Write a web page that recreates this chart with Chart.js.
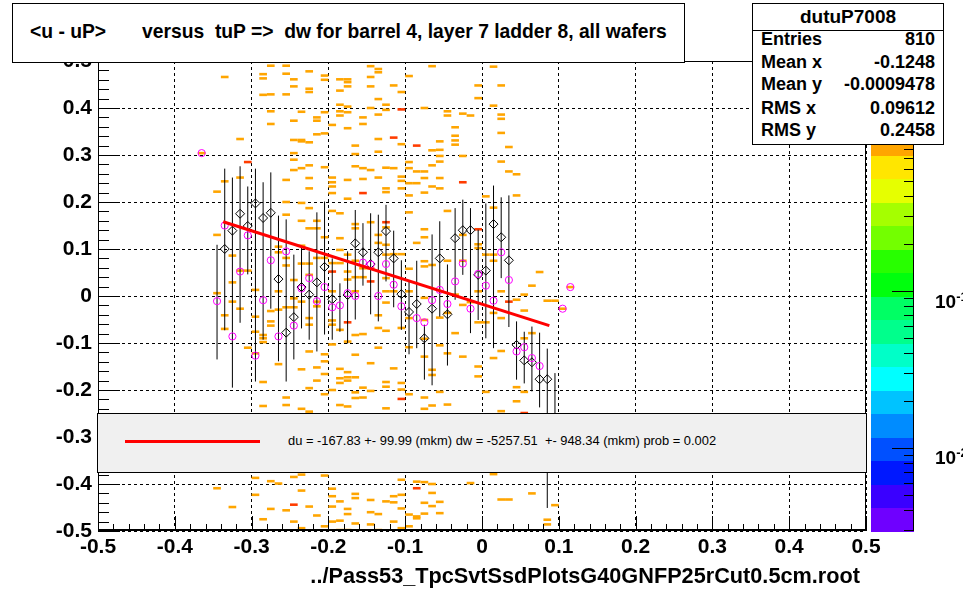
<!DOCTYPE html>
<html>
<head>
<meta charset="utf-8">
<script src="https://cdn.jsdelivr.net/npm/chart.js@4.4.1/dist/chart.umd.min.js"></script>
<style>
  html, body { margin: 0; padding: 0; background: #fff; }
  #page { position: relative; width: 963px; height: 590px; overflow: hidden; font-family: 'Liberation Sans', Arial, sans-serif; color: #000; }
  #plotBox { position: absolute; left: 0; top: 0; width: 963px; height: 590px; }
  .panel { position: absolute; box-sizing: border-box; border: 1px solid #000; background: #fff; }
  #titleBox { left: 12px; top: 3px; width: 673px; height: 60px; font-weight: bold; font-size: 19.3px; }
  #titleBox span { position: absolute; top: 18px; line-height: 20px; white-space: pre; }
  #statsBox { left: 752px; top: 3px; width: 192px; height: 142px; font-weight: bold; font-size: 18px; z-index: 3; }
  #statsHead { position: absolute; left: 0; right: 0; top: 0; height: 26px; line-height: 26px; text-align: center; font-size: 19px; border-bottom: 1px solid #000; }
  .srow { position: absolute; left: 8px; right: 8px; height: 22px; line-height: 22px; }
  .srow .v { position: absolute; right: 0; top: 0; }
  #legendBox { left: 97px; top: 413px; width: 770px; height: 60px; background: #f0f0f0; z-index: 2; }
  #legendLine { position: absolute; left: 27px; top: 26px; width: 135px; height: 3px; background: #ff0000; }
  #legendText { position: absolute; left: 190px; top: 20px; line-height: 14px; font-size: 12.9px; white-space: pre; }
  #palette { position: absolute; left: 871px; top: 61px; width: 43px; height: 470px; z-index: 1; }
  .band { position: absolute; left: 0; width: 43px; }
  .ptick { position: absolute; height: 1px; background: #000; }
  .plab { position: absolute; left: 935px; font-weight: bold; font-size: 19px; line-height: 20px; white-space: nowrap; }
  .plab sup { font-size: 13px; }
</style>
</head>
<body>
<div id="page">
  <div id="plotBox"><canvas id="plot"></canvas></div>
  <div id="palette"></div>
  <div class="plab" style="top:287px">10<sup>-1</sup></div>
  <div class="plab" style="top:443px">10<sup>-2</sup></div>
  <div class="panel" id="titleBox">
    <span style="left:17px">&lt;u - uP&gt;</span>
    <span style="left:129px">versus  tuP =&gt;  dw for barrel 4, layer 7 ladder 8, all wafers</span>
  </div>
  <div class="panel" id="statsBox">
    <div id="statsHead">dutuP7008</div>
    <div class="srow" style="top:24px">Entries<span class="v">810</span></div>
    <div class="srow" style="top:47px">Mean x<span class="v">-0.1248</span></div>
    <div class="srow" style="top:69px">Mean y<span class="v">-0.0009478</span></div>
    <div class="srow" style="top:93px">RMS x<span class="v">0.09612</span></div>
    <div class="srow" style="top:115px">RMS y<span class="v">0.2458</span></div>
  </div>
  <div class="panel" id="legendBox">
    <div id="legendLine"></div>
    <div id="legendText">du = -167.83 +- 99.99 (mkm) dw = -5257.51  +- 948.34 (mkm) prob = 0.002</div>
  </div>
</div>
<script>
// axis ticks
const xTickValues = [-0.5, -0.4, -0.3, -0.2, -0.1, 0, 0.1, 0.2, 0.3, 0.4, 0.5];
const xTickLabels = ['-0.5', '-0.4', '-0.3', '-0.2', '-0.1', '0', '0.1', '0.2', '0.3', '0.4', '0.5'];
const yTickValues = [-0.5, -0.4, -0.3, -0.2, -0.1, 0, 0.1, 0.2, 0.3, 0.4, 0.5];
const yTickLabels = ['-0.5', '-0.4', '-0.3', '-0.2', '-0.1', '0', '0.1', '0.2', '0.3', '0.4', '0.5'];
const xTitle = '../Pass53_TpcSvtSsdPlotsG40GNFP25rCut0.5cm.root ';

// profiles: bin centres, black diamonds, magenta circles, error bar ends
const profileX = [-0.365, -0.345, -0.335, -0.325, -0.315, -0.305, -0.295, -0.285, -0.275, -0.265,
  -0.255, -0.245, -0.235, -0.225, -0.215, -0.205, -0.195, -0.185, -0.175, -0.165,
  -0.155, -0.145, -0.135, -0.125, -0.115, -0.105, -0.095, -0.085, -0.075, -0.065,
  -0.055, -0.045, -0.035, -0.025, -0.015, -0.005, 0.005, 0.015, 0.025, 0.035,
  0.045, 0.055, 0.065, 0.075, 0.085, 0.095, 0.105, 0.115];
const blackMean = [null, null, 0.100, 0.139, 0.175, 0.149, 0.197, 0.166, 0.177, 0.036,
  -0.078, -0.045, 0.019, 0.003, 0.029, 0.062, -0.007, null, 0.002, 0.112,
  0.093, 0.068, 0.093, 0.138, 0.080, 0.004, -0.034, -0.017, -0.090, -0.027,
  0.080, -0.039, 0.123, 0.140, 0.140, 0.045, 0.054, 0.153, 0.125, 0.076,
  -0.104, -0.137, -0.141, -0.177, -0.177, null, null, null];
const magentaMean = [0.304, -0.011, 0.150, -0.086, 0.052, 0.129, -0.127, -0.009, 0.076, -0.086,
  0.095, -0.063, 0.016, 0.038, -0.011, 0.019, -0.024, -0.020, 0.006, 0.000,
  0.071, 0.067, 0.000, 0.068, 0.024, -0.022, null, -0.047, -0.056, -0.009,
  0.013, -0.017, 0.031, 0.069, -0.027, 0.047, 0.022, -0.010, 0.093, 0.034,
  -0.118, -0.109, -0.132, -0.149, null, null, -0.027, 0.019];
const barLow = [null, -0.135, -0.073, -0.195, -0.057, 0.046, -0.182, -0.093, -0.027, -0.139,
  -0.182, -0.135, -0.069, -0.093, -0.118, -0.082, -0.093, -0.076, -0.101, -0.050,
  0.022, -0.039, -0.054, 0.031, -0.024, -0.072, -0.124, -0.111, -0.178, -0.190,
  -0.044, -0.148, -0.008, 0.045, -0.079, -0.051, -0.090, -0.111, 0.038, -0.066,
  -0.178, -0.186, -0.203, -0.237, -0.451, -0.300, null, null];
const barHigh = [null, 0.109, 0.271, 0.252, 0.276, 0.233, 0.271, 0.242, 0.263, 0.171,
  0.163, 0.088, 0.105, 0.095, 0.178, 0.201, 0.080, 0.027, 0.095, 0.183,
  0.155, 0.176, 0.173, 0.194, 0.139, 0.076, 0.031, 0.075, -0.061, 0.131,
  0.159, 0.067, 0.187, 0.205, 0.187, 0.141, 0.197, 0.235, 0.210, 0.214,
  -0.054, -0.076, -0.065, -0.078, -0.112, -0.164, null, null];

// straight line fit
const fitX = [-0.337, 0.0877];
const fitY = [0.158, -0.063];

// 2D histogram cells: [bin centre x, [y of filled cells]] with one entry
const orangeCells = [
  [-0.365, [0.304]],
  [-0.345, [0.222, 0.130, 0.006, -0.409]],
  [-0.335, [0.466, 0.244, -0.041, -0.070]],
  [-0.325, [0.086, 0.029, -0.012, -0.449]],
  [-0.315, [0.334, 0.252, 0.054, -0.027]],
  [-0.305, [0.054, -0.110]],
  [-0.295, [0.013, -0.044, -0.076, -0.122, -0.387, -0.423]],
  [-0.285, [0.472, 0.463, 0.428, -0.083, -0.090, -0.098, -0.183, -0.234, -0.475]],
  [-0.275, [0.490, 0.429, 0.393, 0.366, -0.032, -0.054, -0.063, -0.394, -0.453]],
  [-0.265, [0.105, 0.093, 0.010, -0.029, -0.145, -0.399]],
  [-0.255, [0.490, 0.473, 0.429, 0.247, 0.200, 0.173, 0.081, 0.065, -0.024, -0.216, -0.232, -0.456]],
  [-0.245, [0.461, 0.446, 0.373, 0.332, 0.304, 0.290, 0.268, 0.034, -0.005, -0.024, -0.385, -0.480]],
  [-0.235, [0.392, 0.332, 0.329, 0.272, 0.198, 0.160, 0.107, 0.069, -0.012, -0.156, -0.240, -0.380, -0.414, -0.494]],
  [-0.225, [0.478, 0.441, 0.434, 0.327, 0.278, 0.251, 0.229, 0.187, 0.144, 0.069, 0.045, -0.047, -0.061, -0.118, -0.196, -0.246, -0.448]],
  [-0.215, [0.380, 0.373, 0.344, 0.160, 0.144, 0.081, -0.012, -0.022, -0.152, -0.180, -0.467]],
  [-0.205, [0.469, 0.460, 0.391, 0.346, 0.274, 0.125, 0.081, -0.124, -0.139, -0.166, -0.209, -0.382, -0.490]],
  [-0.195, [0.364, 0.252, 0.242, 0.233, 0.219, 0.181, 0.070, 0.010, -0.052, -0.061, -0.103, -0.200, -0.410, -0.426, -0.448, -0.480]],
  [-0.185, [0.461, 0.437, 0.407, 0.393, 0.384, 0.176, 0.123, 0.098, 0.070, -0.072, -0.155, -0.175, -0.185, -0.232, -0.437, -0.478, -0.498]],
  [-0.175, [0.461, 0.455, 0.446, 0.403, 0.391, 0.357, 0.247, 0.207, 0.088, 0.052, 0.035, -0.097, -0.162, -0.173, -0.180, -0.235, -0.453, -0.464, -0.498]],
  [-0.165, [0.320, 0.302, 0.276, 0.153, 0.144, 0.075, 0.040, 0.010, -0.083, -0.125, -0.173, -0.205, -0.217, -0.421, -0.430, -0.484]],
  [-0.155, [0.380, 0.366, 0.272, 0.249, 0.059, 0.040, -0.081, -0.195, -0.216]],
  [-0.145, [0.489, 0.466, 0.446, 0.400, 0.268, 0.157, 0.059, -0.143, -0.202, -0.434, -0.460, -0.486]],
  [-0.135, [0.483, 0.476, 0.419, 0.386, 0.334, 0.307, 0.252, 0.130, 0.113, -0.041, -0.068, -0.110, -0.464, -0.498]],
  [-0.125, [0.407, 0.396, 0.273, 0.229, 0.221, 0.146, 0.109, 0.088, 0.038, 0.010, -0.014, -0.074, -0.183, -0.193, -0.239, -0.437]],
  [-0.115, [0.448, 0.272, 0.089, 0.010, -0.154, -0.426, -0.439, -0.480]],
  [-0.105, [0.434, 0.323, 0.254, 0.245, 0.229, 0.089, -0.068, -0.185, -0.199, -0.391, -0.423, -0.452, -0.494]],
  [-0.095, [0.468, 0.285, 0.272, 0.240, 0.214, 0.178, 0.058, 0.010, -0.047, -0.109, -0.209, -0.465, -0.490]],
  [-0.085, [0.265, 0.240, 0.113, -0.395, -0.469, -0.473]],
  [-0.075, [0.400, 0.265, 0.251, 0.220, 0.142, 0.125, 0.074, 0.063, -0.004, -0.051, -0.091, -0.129, -0.216, -0.240, -0.396, -0.440, -0.463]],
  [-0.065, [0.489, 0.310, 0.278, 0.233, 0.066, -0.157, -0.168, -0.233, -0.400, -0.419, -0.447]],
  [-0.055, [0.329, 0.311, 0.298, 0.286, 0.251, 0.229, -0.046, -0.105, -0.204, -0.438, -0.462]],
  [-0.045, [0.393, 0.384, 0.181, 0.075, -0.036, -0.122, -0.231]],
  [-0.035, [0.359, 0.341, 0.331, 0.322, 0.003, -0.079]],
  [-0.025, [0.388, 0.298, 0.130, 0.075, -0.019, -0.129]],
  [-0.015, [0.384, -0.013, -0.398]],
  [-0.005, [0.448, 0.421, 0.110, 0.102, 0.010, -0.056, -0.150, -0.171]],
  [0.005, [0.212, 0.088, -0.056, -0.204]],
  [0.015, [0.488, 0.405, 0.188, 0.088, 0.075, -0.036, -0.132, -0.379]],
  [0.025, [0.448, 0.386, 0.377, 0.347, 0.286, 0.010, -0.047, -0.117, -0.245, -0.433]],
  [0.035, [0.317, 0.265, -0.433]],
  [0.045, [0.259, 0.214, -0.008, -0.194, -0.224]],
  [0.055, [0.003, -0.031, -0.090, -0.204]],
  [0.065, [0.022, -0.079, -0.420]],
  [0.075, [0.051]],
  [0.085, [-0.010, -0.476, -0.486]],
  [0.095, [-0.010, -0.445]],
  [0.105, [-0.027]],
  [0.115, [0.019]]
];
// cells with two entries
const redCells = [[-0.305, 0.285], [-0.115, 0.337], [-0.155, 0.219], [-0.125, 0.157], [-0.145, 0.031],
  [-0.195, 0.052], [-0.175, -0.056], [-0.245, -0.444], [-0.105, 0.397], [-0.105, -0.219],
  [-0.085, 0.320], [-0.085, -0.409], [-0.025, 0.242], [-0.005, 0.142], [0.035, -0.012], [0.055, -0.249]];
const cellW = 0.01;
const cellH = 0.0055;

// colour scale (log z), bands from bottom to top
const paletteColors = ['#6f00ff', '#3a00ff', '#0018ff', '#0050ff', '#008cff', '#00c3ff', '#00ffff', '#00ffc8',
  '#00ff8c', '#00ff64', '#00ff0d', '#28ff00', '#73ff00', '#a5ff00', '#e6ff00', '#ffe600',
  '#ffa500', '#ff7000', '#ff3c00', '#ff0000'];
const paletteLogMin = -2.529;
const paletteLogMax = 0.465;
const paletteTicks = [0.003, 0.004, 0.005, 0.006, 0.007, 0.008, 0.009, 0.01, 0.02, 0.03, 0.04, 0.05, 0.06,
  0.07, 0.08, 0.09, 0.1, 0.2, 0.3, 0.4, 0.5, 0.6, 0.7, 0.8, 0.9, 1, 2];
const paletteMajor = [0.01, 0.1, 1];

// palette drawing
const pal = document.getElementById('palette');
const bandH = 470 / paletteColors.length;
paletteColors.forEach((c, i) => {
  const d = document.createElement('div');
  d.className = 'band';
  d.style.top = (470 - (i + 1) * bandH) + 'px';
  d.style.height = (bandH + 0.5) + 'px';
  d.style.background = c;
  pal.appendChild(d);
});
const axisLine = document.createElement('div');
axisLine.className = 'ptick';
axisLine.style.left = '42px'; axisLine.style.top = '0px'; axisLine.style.width = '1px'; axisLine.style.height = '470px';
pal.appendChild(axisLine);
paletteTicks.forEach(v => {
  const t = (Math.log10(v) - paletteLogMin) / (paletteLogMax - paletteLogMin);
  const y = Math.round(470 - 470 * t);
  const len = paletteMajor.includes(v) ? 22 : 10;
  const d = document.createElement('div');
  d.className = 'ptick';
  d.style.left = (43 - len) + 'px'; d.style.top = y + 'px'; d.style.width = len + 'px';
  pal.appendChild(d);
});

// data for chart.js
const orangePts = [];
orangeCells.forEach(([x, ys]) => ys.forEach(y => orangePts.push({x: x, y: y})));
const redPts = redCells.map(([x, y]) => ({x: x, y: y}));
const barPts = [];
profileX.forEach((x, i) => {
  if (barLow[i] !== null) barPts.push({x: x, y: barLow[i]}, {x: x, y: barHigh[i]}, {x: x, y: null});
});
const blackPts = profileX.map((x, i) => ({x: x, y: blackMean[i]})).filter(p => p.y !== null);
const magentaPts = profileX.map((x, i) => ({x: x, y: magentaMean[i]})).filter(p => p.y !== null);
const fitPts = fitX.map((x, i) => ({x: x, y: fitY[i]}));

const cellRadius = ctx => {
  const s = ctx.chart.scales.x;
  return Math.abs(s.getPixelForValue(cellW) - s.getPixelForValue(0)) / 2;
};
const cellThick = ctx => {
  const s = ctx.chart.scales.y;
  return Math.abs(s.getPixelForValue(cellH) - s.getPixelForValue(0));
};

const tickFont = {family: 'Liberation Sans', size: 21, weight: 'bold'};
const titleFont = {family: 'Liberation Sans', size: 21.7, weight: 'bold'};

// frame and inner tick marks like the original
const frameTicks = {
  id: 'frameTicks',
  afterDatasetsDraw(chart) {
    const {ctx, chartArea: a, scales: {x, y}} = chart;
    ctx.save();
    ctx.strokeStyle = '#000';
    ctx.lineWidth = 1;
    ctx.setLineDash([]);
    ctx.strokeRect(a.left + 0.5, a.top + 0.5, a.width - 1, a.height - 1);
    ctx.beginPath();
    ctx.moveTo(a.left, a.bottom - 1.5);
    ctx.lineTo(a.right, a.bottom - 1.5);
    for (let i = 0; i <= 50; i++) {
      const v = -0.5 + i * 0.02;
      const major = i % 5 === 0;
      const px = Math.round(x.getPixelForValue(v)) + 0.5;
      ctx.moveTo(px, a.bottom);
      ctx.lineTo(px, a.bottom - (major ? 15 : 7));
      const py = Math.round(y.getPixelForValue(v)) + 0.5;
      ctx.moveTo(a.left, py);
      ctx.lineTo(a.left + (major ? 22 : 11), py);
    }
    ctx.stroke();
    ctx.restore();
  }
};

new Chart(document.getElementById('plot'), {
  type: 'scatter',
  data: {
    datasets: [
      {data: orangePts, pointStyle: 'line', pointRadius: cellRadius, pointHoverRadius: cellRadius,
        pointBorderWidth: cellThick, pointBorderColor: '#ffa500', order: 6},
      {data: redPts, pointStyle: 'line', pointRadius: cellRadius, pointHoverRadius: cellRadius,
        pointBorderWidth: cellThick, pointBorderColor: '#ff3c00', order: 5},
      {data: barPts, showLine: true, spanGaps: false, borderColor: '#000', borderWidth: 1,
        pointRadius: 0, order: 4},
      {data: blackPts, pointStyle: 'rectRot', pointRadius: 4.5, pointBorderColor: '#000',
        pointBackgroundColor: 'rgba(0,0,0,0)', pointBorderWidth: 1, order: 3},
      {data: magentaPts, pointStyle: 'circle', pointRadius: 3.6, pointBorderColor: '#ff00ff',
        pointBackgroundColor: 'rgba(0,0,0,0)', pointBorderWidth: 1, order: 2},
      {data: fitPts, showLine: true, borderColor: '#ff0000', borderWidth: 3, pointRadius: 0, order: 1}
    ]
  },
  options: {
    responsive: true,
    maintainAspectRatio: false,
    animation: false,
    events: [],
    layout: {padding: {left: 0, top: 61, right: 97, bottom: 0}},
    plugins: {legend: {display: false}, tooltip: {enabled: false}},
    scales: {
      x: {
        type: 'linear', min: -0.5, max: 0.5,
        afterBuildTicks: s => { s.ticks = xTickValues.map(v => ({value: v})); },
        afterFit: s => { s.height = 59; },
        ticks: {autoSkip: false, maxRotation: 0, padding: 4, color: '#000', font: tickFont,
          callback: (v, i) => xTickLabels[i]},
        grid: {color: '#000', lineWidth: 1, drawTicks: false},
        border: {display: false, dash: [3, 3]},
        title: {display: true, text: xTitle, align: 'end', color: '#000', font: titleFont,
          padding: {top: 0, bottom: 0}}
      },
      y: {
        type: 'linear', min: -0.5, max: 0.5,
        afterBuildTicks: s => { s.ticks = yTickValues.map(v => ({value: v})); },
        afterFit: s => { s.width = 98; },
        ticks: {autoSkip: false, padding: 6, color: '#000', font: tickFont,
          callback: (v, i) => yTickLabels[i]},
        grid: {color: '#000', lineWidth: 1, drawTicks: false},
        border: {display: false, dash: [3, 3]}
      }
    }
  },
  plugins: [frameTicks]
});
</script>
</body>
</html>
